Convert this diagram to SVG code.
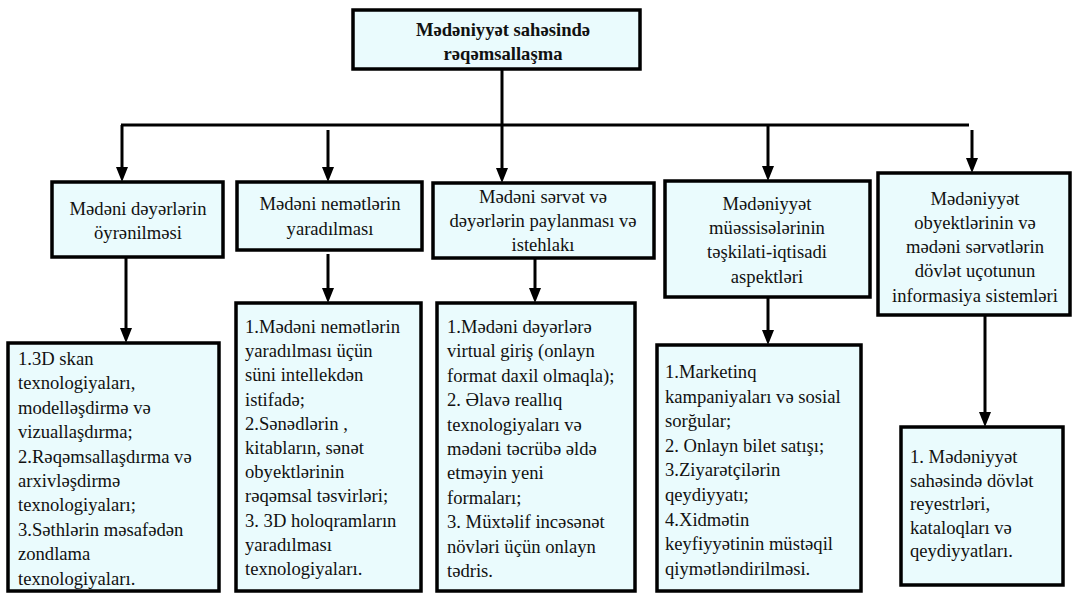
<svg xmlns="http://www.w3.org/2000/svg" width="1073" height="593" viewBox="0 0 1073 593">
<style>
.box{fill:#eafbfd;stroke:#000;stroke-width:3.5}
.t{font-family:'Liberation Serif','DejaVu Serif',serif;font-size:19px;font-size-adjust:0.45;fill:#111}
.c{text-anchor:middle}
.b{font-weight:bold}
.ln{stroke:#000;stroke-width:3;fill:none}
</style>
<g id="connectors">
<line class="ln" x1="502" y1="69" x2="502" y2="125"/>
<line class="ln" x1="121" y1="125" x2="969" y2="125"/>
<line class="ln" x1="122" y1="125" x2="122" y2="168"/><path d="M116,167 L128,167 L122,182 Z"/>
<line class="ln" x1="328" y1="130" x2="328" y2="168"/><path d="M322,167 L334,167 L328,182 Z"/>
<line class="ln" x1="502" y1="125" x2="502" y2="169"/><path d="M496,168 L508,168 L502,183 Z"/>
<line class="ln" x1="768" y1="125" x2="768" y2="167"/><path d="M762,166 L774,166 L768,181 Z"/>
<line class="ln" x1="972" y1="130" x2="972" y2="159"/><path d="M966,158 L978,158 L972,173 Z"/>
<line class="ln" x1="126" y1="257" x2="126" y2="329"/><path d="M120,328 L132,328 L126,343 Z"/>
<line class="ln" x1="328" y1="254" x2="328" y2="289"/><path d="M322,288 L334,288 L328,303 Z"/>
<line class="ln" x1="535" y1="258" x2="535" y2="289"/><path d="M529,288 L541,288 L535,303 Z"/>
<line class="ln" x1="768" y1="297" x2="768" y2="331"/><path d="M762,330 L774,330 L768,345 Z"/>
<line class="ln" x1="985" y1="315" x2="985" y2="413"/><path d="M979,412 L991,412 L985,427 Z"/>
</g>
<g id="root">
<rect class="box" x="353" y="10" width="287" height="59"/>
<text class="t b c" x="503" y="36">Mədəniyyət sahəsində</text>
<text class="t b c" x="503" y="60">rəqəmsallaşma</text>
</g>
<g id="n1">
<rect class="box" x="52" y="182" width="171" height="75"/>
<text class="t c" x="138" y="215">Mədəni dəyərlərin</text>
<text class="t c" x="138" y="239">öyrənilməsi</text>
</g>
<g id="n2">
<rect class="box" x="237" y="182" width="185" height="68"/>
<text class="t c" x="330" y="210">Mədəni nemətlərin</text>
<text class="t c" x="330" y="235">yaradılması</text>
</g>
<g id="n3">
<rect class="box" x="433" y="183" width="221" height="75"/>
<text class="t c" x="543" y="203">Mədəni sərvət və</text>
<text class="t c" x="543" y="227">dəyərlərin paylanması və</text>
<text class="t c" x="543" y="251">istehlakı</text>
</g>
<g id="n4">
<rect class="box" x="665" y="181" width="205" height="116"/>
<text class="t c" x="767" y="210">Mədəniyyət</text>
<text class="t c" x="767" y="234">müəssisələrinin</text>
<text class="t c" x="767" y="258">təşkilati-iqtisadi</text>
<text class="t c" x="767" y="283">aspektləri</text>
</g>
<g id="n5">
<rect class="box" x="878" y="173" width="192" height="142"/>
<text class="t c" x="975" y="205">Mədəniyyət</text>
<text class="t c" x="975" y="229">obyektlərinin və</text>
<text class="t c" x="975" y="253">mədəni sərvətlərin</text>
<text class="t c" x="975" y="277">dövlət uçotunun</text>
<text class="t c" x="975" y="302">informasiya sistemləri</text>
</g>
<g id="d1">
<rect class="box" x="8" y="343" width="211" height="248"/>
<text class="t" x="18" y="365">1.3D skan</text>
<text class="t" x="18" y="389.4">texnologiyaları,</text>
<text class="t" x="18" y="413.8">modelləşdirmə və</text>
<text class="t" x="18" y="438.2">vizuallaşdırma;</text>
<text class="t" x="18" y="462.6">2.Rəqəmsallaşdırma və</text>
<text class="t" x="18" y="487">arxivləşdirmə</text>
<text class="t" x="18" y="511.4">texnologiyaları;</text>
<text class="t" x="18" y="535.8">3.Səthlərin məsafədən</text>
<text class="t" x="18" y="560.2">zondlama</text>
<text class="t" x="18" y="584.6">texnologiyaları.</text>
</g>
<g id="d2">
<rect class="box" x="236" y="303" width="185" height="288"/>
<text class="t" x="245" y="333">1.Mədəni nemətlərin</text>
<text class="t" x="245" y="357.2">yaradılması üçün</text>
<text class="t" x="245" y="381.4">süni intellekdən</text>
<text class="t" x="245" y="405.6">istifadə;</text>
<text class="t" x="245" y="429.8">2.Sənədlərin ,</text>
<text class="t" x="245" y="454">kitabların, sənət</text>
<text class="t" x="245" y="478.2">obyektlərinin</text>
<text class="t" x="245" y="502.4">rəqəmsal təsvirləri;</text>
<text class="t" x="245" y="526.6">3. 3D holoqramların</text>
<text class="t" x="245" y="550.8">yaradılması</text>
<text class="t" x="245" y="575">texnologiyaları.</text>
</g>
<g id="d3">
<rect class="box" x="437" y="303" width="198" height="288"/>
<text class="t" x="447" y="333">1.Mədəni dəyərlərə</text>
<text class="t" x="447" y="357.4">virtual giriş (onlayn</text>
<text class="t" x="447" y="381.8">format daxil olmaqla);</text>
<text class="t" x="447" y="406.2">2. Əlavə reallıq</text>
<text class="t" x="447" y="430.6">texnologiyaları və</text>
<text class="t" x="447" y="455">mədəni təcrübə əldə</text>
<text class="t" x="447" y="479.4">etməyin yeni</text>
<text class="t" x="447" y="503.8">formaları;</text>
<text class="t" x="447" y="528.2">3. Müxtəlif incəsənət</text>
<text class="t" x="447" y="552.6">növləri üçün onlayn</text>
<text class="t" x="447" y="577">tədris.</text>
</g>
<g id="d4">
<rect class="box" x="657" y="345" width="204" height="246"/>
<text class="t" x="665" y="378">1.Marketinq</text>
<text class="t" x="665" y="402.6">kampaniyaları və sosial</text>
<text class="t" x="665" y="427.2">sorğular;</text>
<text class="t" x="665" y="451.8">2. Onlayn bilet satışı;</text>
<text class="t" x="665" y="476.4">3.Ziyarətçilərin</text>
<text class="t" x="665" y="501">qeydiyyatı;</text>
<text class="t" x="665" y="525.6">4.Xidmətin</text>
<text class="t" x="665" y="550.2">keyfiyyətinin müstəqil</text>
<text class="t" x="665" y="574.8">qiymətləndirilməsi.</text>
</g>
<g id="d5">
<rect class="box" x="901" y="427" width="162" height="158"/>
<text class="t" x="910" y="463">1. Mədəniyyət</text>
<text class="t" x="910" y="486.5">sahəsində dövlət</text>
<text class="t" x="910" y="510">reyestrləri,</text>
<text class="t" x="910" y="533.5">kataloqları və</text>
<text class="t" x="910" y="557">qeydiyyatları.</text>
</g>
</svg>
